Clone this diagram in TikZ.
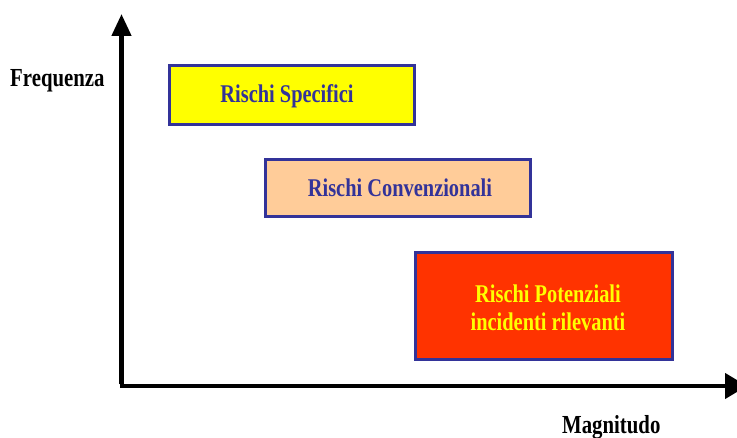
\documentclass[tikz,border=0pt]{standalone}
\usepackage{fontspec}
\setmainfont{Liberation Serif}[FakeStretch=0.8]
\usetikzlibrary{arrows.meta}
\definecolor{boxblue}{HTML}{333399}
\definecolor{boxyellow}{HTML}{FFFF00}
\definecolor{boxpeach}{HTML}{FFCC99}
\definecolor{boxred}{HTML}{FF3300}
\tikzset{
  riskbox/.style={draw=boxblue, line width=3pt, inner sep=0pt, anchor=north west},
  risktext/.style={font=\fontsize{25.5}{28}\selectfont\bfseries, align=center, inner sep=0pt},
  axislabel/.style={font=\fontsize{26}{28}\selectfont\bfseries, text=black, inner sep=0pt},
  axisline/.style={line width=4.5pt, -{Triangle[width=25pt,length=22pt]}}
}
\begin{document}
\begin{tikzpicture}[x=1pt,y=-1pt]
\useasboundingbox (0,0) rectangle (737,438);
\clip (0,0) rectangle (737,438);
\fill[white] (0,0) rectangle (737,438);
\coordinate (origin) at (121.5,386);
\coordinate (ytop) at (121.5,14);
\coordinate (xend) at (747,386);
\draw[axisline, -{Triangle[width=19pt,length=22pt]}] ([yshift=2pt]origin) -- (ytop);
\draw[axisline] ([xshift=-2pt]origin) -- (xend);
\node[riskbox, fill=boxyellow, minimum width=245pt, minimum height=59pt] (spec) at (167.5,64.5) {};
\node[risktext, text=boxblue] (spect) at (287,96) {Rischi Specifici};
\node[riskbox, fill=boxpeach, minimum width=265pt, minimum height=57pt] (conv) at (263.5,158.5) {};
\node[risktext, text=boxblue] (convt) at (400,188) {Rischi Convenzionali};
\node[riskbox, fill=boxred, minimum width=257pt, minimum height=107pt] (pot) at (413.5,251.5) {};
\node[risktext, text=boxyellow] (pott) at (548,308) {Rischi Potenziali\\incidenti rilevanti};
\node[axislabel, anchor=west] (freq) at (10,81) {Frequenza};
\node[axislabel, anchor=west] (magn) at (562,427) {Magnitudo};
\end{tikzpicture}
\end{document}
